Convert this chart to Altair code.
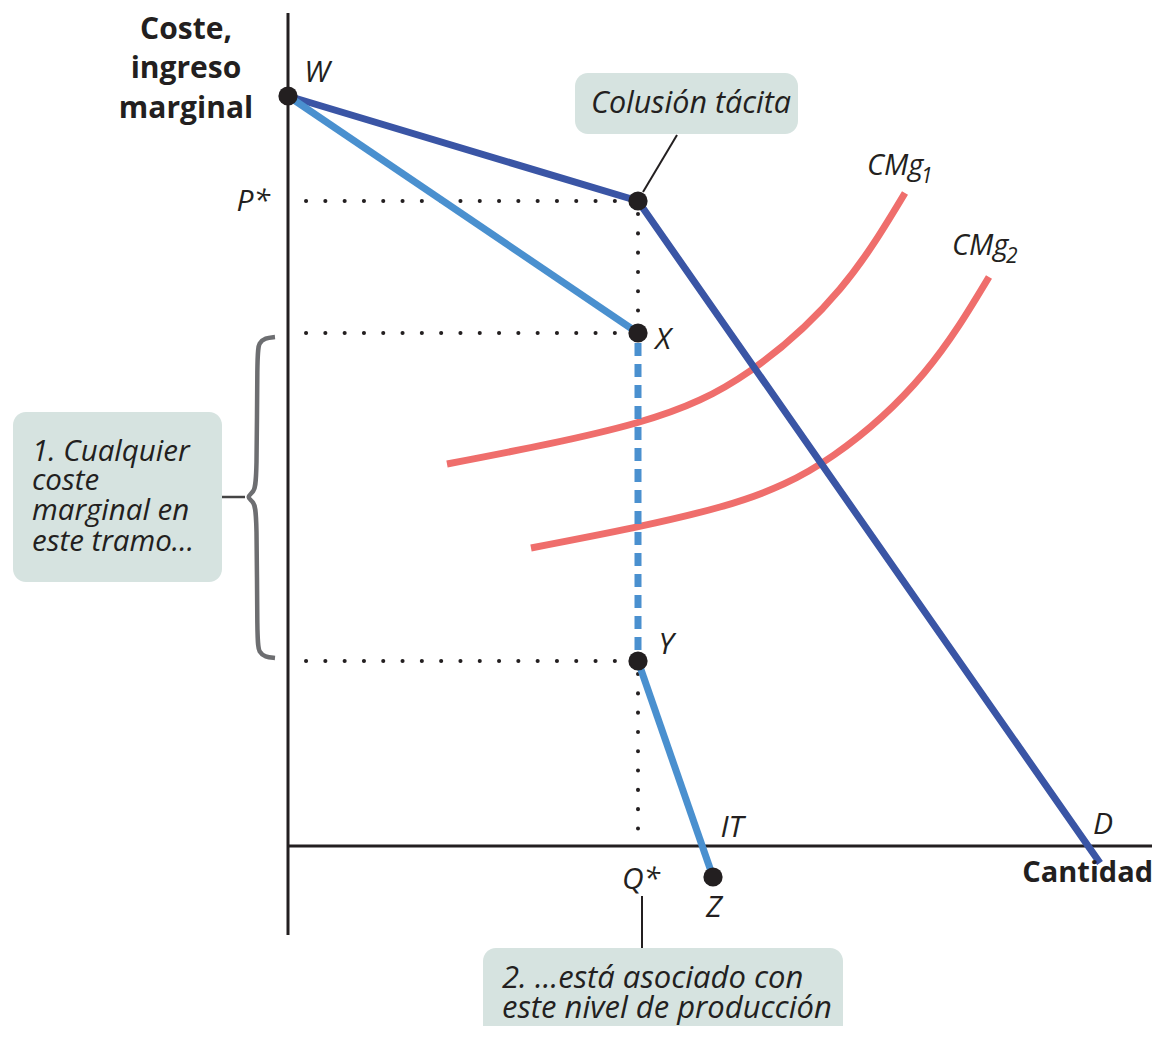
import altair as alt
import pandas as pd

# ---------------- data (economic coordinates: q = quantity, p = cost / revenue) -------------
W_PT = (0, 750)
KINK = (350, 645)        # (Q*, P*)
X_PT = (350, 513)
Y_PT = (350, 185)
Z_PT = (425, -31)
D_END = (812, -17)

cmg1_q = [159, 348, 462, 552, 617]
cmg1_p = [382, 423, 475, 557, 653]
cmg2_q = [243, 432, 546, 636, 701]
cmg2_p = [298, 339, 391, 473, 569]

brace_q = [-13, -23, -29, -31, -31, -34, -42, -34, -31, -31, -29, -23, -13]
brace_p = [509, 508, 503, 494, 364, 354, 349, 344, 334, 203, 194, 189, 188]

box1_lines = ["1. Cualquier", "coste", "marginal en", "este tramo..."]
box2_lines = ["2. ...está asociado con", "este nivel de producción"]
title_lines = ["Coste,", "ingreso", "marginal"]

# ---------------- styling ----------------
FONT = "Open Sans"
BLACK = "#231f20"
DARK = "#3a55a5"
LIGHT = "#4a90cf"
RED = "#ef6e6c"
BOXC = "#d6e3e0"
GRAY = "#6d6e71"

XS = alt.Scale(domain=[-280, 864], nice=False, zero=False)
YS = alt.Scale(domain=[-180, 838], nice=False, zero=False)


def ex(f="q"):
    return alt.X(f"{f}:Q", scale=XS, axis=None)


def ey(f="p"):
    return alt.Y(f"{f}:Q", scale=YS, axis=None)


def rules(rows, **mk):
    df = pd.DataFrame(rows, columns=["q", "p", "q2", "p2"])
    return alt.Chart(df).mark_rule(**mk).encode(
        x=ex(), y=ey(), x2=alt.X2("q2:Q"), y2=alt.Y2("p2:Q"))


def path(qs, ps, **mk):
    df = pd.DataFrame({"q": qs, "p": ps, "o": range(len(qs))})
    return alt.Chart(df).mark_line(**mk).encode(
        x=ex(), y=ey(), order=alt.Order("o:Q"))


def texts(rows, **mk):
    df = pd.DataFrame(rows, columns=["q", "p", "t"])
    return alt.Chart(df).mark_text(font=FONT, color=BLACK, **mk).encode(
        x=ex(), y=ey(), text="t:N")


def boxes(rows):
    df = pd.DataFrame(rows, columns=["q", "p", "q2", "p2"])
    return alt.Chart(df).mark_rect(color=BOXC, cornerRadius=13).encode(
        x=ex(), y=ey(), x2=alt.X2("q2:Q"), y2=alt.Y2("p2:Q"))


layers = []

# annotation boxes
layers.append(boxes([
    (287, 773, 510, 712),
    (-275, 434, -66, 264),
    (195, -102, 555, -215),
]))

# axes
layers.append(rules([(0, 833, 0, -89), (0, 0, 867, 0)], color=BLACK, strokeWidth=3))

# dotted guide lines
dots = dict(color=BLACK, strokeWidth=4, strokeDash=[0.1, 19.2], strokeCap="round")
layers.append(rules([
    (18, KINK[1], 340, KINK[1]),
    (18, X_PT[1], 340, X_PT[1]),
    (18, Y_PT[1], 340, Y_PT[1]),
    (KINK[0], KINK[1] - 13, KINK[0], X_PT[1] + 8),
    (Y_PT[0], Y_PT[1] - 13, Y_PT[0], 14),
], **dots))

# marginal cost curves
layers.append(path(cmg1_q, cmg1_p, color=RED, strokeWidth=7, interpolate="natural"))
layers.append(path(cmg2_q, cmg2_p, color=RED, strokeWidth=7, interpolate="natural"))

# demand (kinked)
layers.append(path([W_PT[0], KINK[0], D_END[0]], [W_PT[1], KINK[1], D_END[1]],
                   color=DARK, strokeWidth=7))

# marginal revenue
layers.append(path([W_PT[0], X_PT[0]], [W_PT[1], X_PT[1]], color=LIGHT, strokeWidth=7))
layers.append(path([Y_PT[0], Z_PT[0]], [Y_PT[1], Z_PT[1]], color=LIGHT, strokeWidth=7))
layers.append(rules([(X_PT[0], X_PT[1] - 10, Y_PT[0], Y_PT[1] + 8)],
                    color=LIGHT, strokeWidth=7, strokeDash=[13, 8]))

# brace and leaders
layers.append(path(brace_q, brace_p, color=GRAY, strokeWidth=4.5, interpolate="basis"))
layers.append(rules([(-66, 349, -43, 349)], color="#444444", strokeWidth=2.5))
layers.append(rules([(389, 711, 355, 654), (354, -50, 354, -102)],
                    color=BLACK, strokeWidth=2))

# points
pts = pd.DataFrame([W_PT, KINK, X_PT, Y_PT, Z_PT], columns=["q", "p"])
layers.append(alt.Chart(pts).mark_circle(size=370, color=BLACK, opacity=1).encode(x=ex(), y=ey()))

# labels
layers.append(texts([
    (29, 773, "W"), (375, 506, "X"), (378, 201, "Y"), (444, 18, "IT"),
    (426, -62, "Z"), (815, 21, "D"), (353, -34, "Q*"),
], fontSize=30, fontStyle="italic", align="center", baseline="middle"))
layers.append(texts([(-18, 644, "P*")], fontSize=30, fontStyle="italic",
                    align="right", baseline="middle"))
layers.append(texts([(579, 671, "CMg"), (664, 591, "CMg")], fontSize=29,
                    fontStyle="italic", align="left", baseline="alphabetic"))
layers.append(texts([(633, 663, "1"), (718, 583, "2")], fontSize=21,
                    fontStyle="italic", align="left", baseline="alphabetic"))
layers.append(texts([(403, 742, "Colusión tácita")], fontSize=30.5, fontStyle="italic",
                    align="center", baseline="middle"))
layers.append(texts(list(zip([-256] * 4, [385, 356, 326, 295], box1_lines)),
                    fontSize=29.5, fontStyle="italic", align="left", baseline="alphabetic"))
layers.append(texts(list(zip([214] * 2, [-142, -172], box2_lines)),
                    fontSize=31, fontStyle="italic", align="left", baseline="alphabetic"))
layers.append(texts(list(zip([-102] * 3, [807, 768, 728], title_lines)),
                    fontSize=30, fontWeight="bold", align="center", baseline="alphabetic"))
layers.append(texts([(865, -27, "Cantidad")], fontSize=29, fontWeight="bold",
                    align="right", baseline="middle"))

chart = alt.layer(*layers).properties(
    width=1144, height=1018,
    autosize=alt.AutoSizeParams(type="none"), padding=0,
).configure_view(strokeWidth=0)

chart.save("out.html", embed_options={"renderer": "svg", "actions": False})
